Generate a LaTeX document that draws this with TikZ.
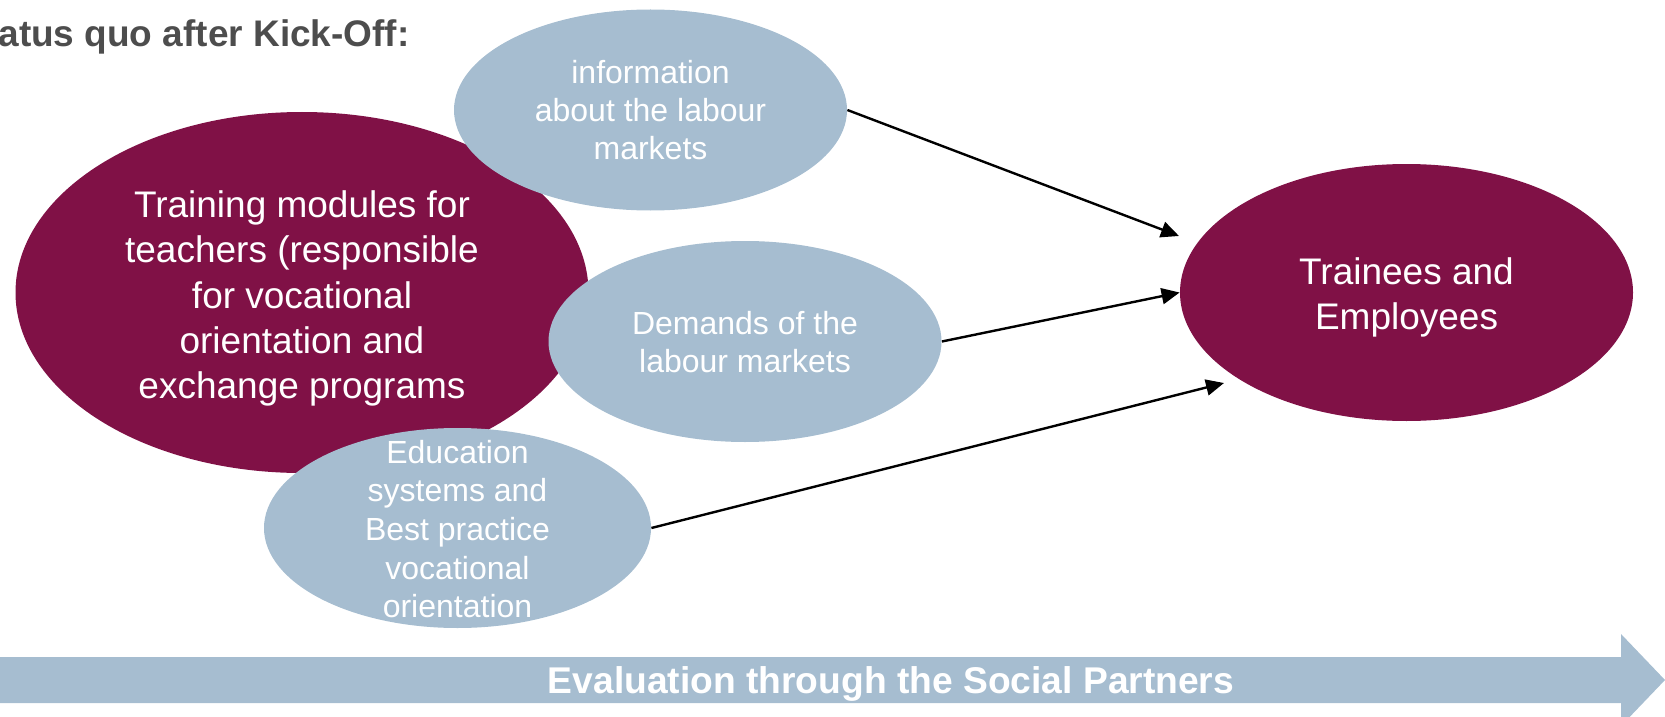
\documentclass[tikz,border=0pt]{standalone}
\usepackage{fontspec}
\setmainfont{Liberation Sans}
\usetikzlibrary{shapes.geometric,arrows.meta}
\definecolor{wine}{RGB}{128,17,70}
\definecolor{steel}{RGB}{166,189,208}
\definecolor{titlegray}{RGB}{77,77,77}
\tikzset{
  oval/.style={ellipse, inner sep=0pt, draw=none},
  bigoval/.style={oval, fill=wine},
  smalloval/.style={oval, fill=steel},
  bigtext/.style={text=white, align=center, inner sep=0pt, font=\fontsize{18.5}{22.6}\selectfont},
  smalltext/.style={text=white, align=center, inner sep=0pt, font=\fontsize{16}{19}\selectfont},
  link/.style={draw=black, line width=1.2pt, -{Triangle[length=9pt,width=8pt]}},
}
\begin{document}
\begin{tikzpicture}[x=0.5pt,y=-0.5pt]
\useasboundingbox (0,0) rectangle (1665,717);

% title
\node[anchor=base east, inner sep=0pt, text=titlegray, font=\fontsize{18.5}{22}\selectfont\bfseries] (title) at (410,47) {atus quo after Kick-Off:};

% big ovals
\node[bigoval, minimum width=286.5pt, minimum height=180.5pt] (training) at (302,292.5) {};
\node[bigtext] (trainingText) at ([yshift=-3pt]training.center) {Training modules for\\teachers (responsible\\for vocational\\orientation and\\exchange programs};

\node[bigoval, minimum width=226.5pt, minimum height=128.5pt] (trainees) at (1406.5,292.5) {};
\node[bigtext] (traineesText) at ([yshift=-2.5pt]trainees.center) {Trainees and\\Employees};

% small ovals
\node[smalloval, minimum width=196.5pt, minimum height=100.5pt] (info) at (650.5,110) {};
\node[smalltext] (infoText) at (info.center) {information\\about the labour\\markets};

\node[smalloval, minimum width=196.5pt, minimum height=100.5pt] (demands) at (745,341.5) {};
\node[smalltext] (demandsText) at ([yshift=-0.5pt]demands.center) {Demands of the\\labour markets};

\node[smalloval, minimum width=193.5pt, minimum height=100pt] (edu) at (457.5,528) {};
\node[smalltext, font=\fontsize{16}{19.3}\selectfont] (eduText) at ([yshift=-0.5pt]edu.center) {Education\\systems and\\Best practice\\vocational\\orientation};

% connectors
\coordinate (t1) at (1179,236);
\coordinate (t3) at (1224,383);
\draw[link] (info.east) -- (t1);
\draw[link] (demands.east) -- (trainees.west);
\draw[link] (edu.east) -- (t3);

% bottom arrow
\fill[steel] (0,657) -- (1621,657) -- (1621,634) -- (1665,680) -- (1621,726) -- (1621,703) -- (0,703) -- cycle;
\node[anchor=base, inner sep=0pt, text=white, font=\fontsize{18.6}{22}\selectfont\bfseries] (evaluation) at (891,693) {Evaluation through the Social Partners};
\end{tikzpicture}
\end{document}
